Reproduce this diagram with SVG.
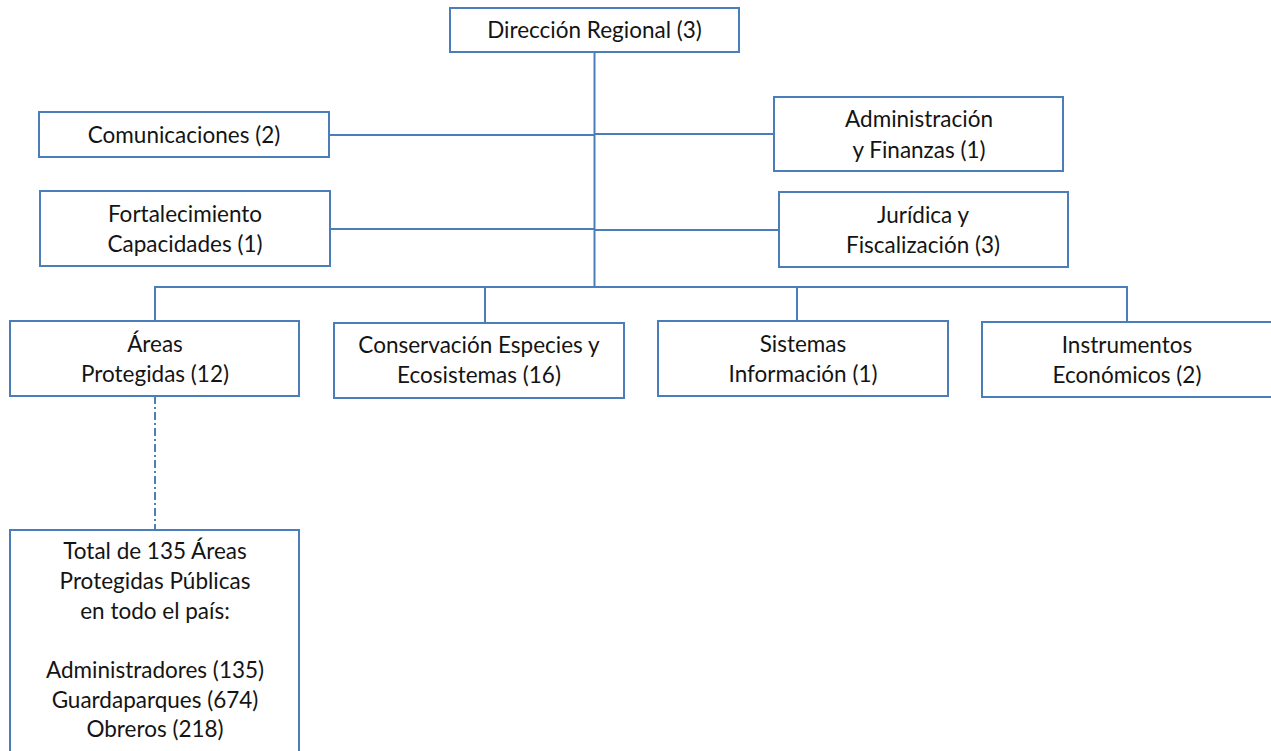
<svg xmlns="http://www.w3.org/2000/svg" width="1271" height="751" viewBox="0 0 1271 751">
<style>
.box{fill:#ffffff;stroke:#4a7ebb;stroke-width:2}
.ln{fill:none;stroke:#4a7ebb;stroke-width:2}
.dd{fill:none;stroke:#4a7ebb;stroke-width:2;stroke-dasharray:8 3 2 3}
text{font-family:Lato,"Open Sans",sans-serif;font-size:22.5px;fill:#141414;text-anchor:middle}
</style>
<rect width="1271" height="751" fill="#ffffff"/>
<g id="connectors">
<path class="ln" d="M594.5 52V287"/>
<path class="ln" d="M329 135H594.5M594.5 134H774"/>
<path class="ln" d="M330 229H594.5M594.5 230H779"/>
<path class="ln" d="M155 321V287H1127V322M485 287V323M797 287V321"/>
<path class="dd" d="M155 396V530"/>
</g>
<g id="direccion"><rect class="box" x="450" y="8" width="289" height="44"/><text x="594.5" y="38">Dirección Regional (3)</text></g>
<g id="comunicaciones"><rect class="box" x="39" y="112" width="290" height="45"/><text x="184" y="143">Comunicaciones (2)</text></g>
<g id="administracion"><rect class="box" x="774" y="97" width="289" height="74"/><text x="919" y="127">Administración</text><text x="919" y="158">y Finanzas (1)</text></g>
<g id="fortalecimiento"><rect class="box" x="40" y="191" width="290" height="75"/><text x="185" y="222">Fortalecimiento</text><text x="185" y="252">Capacidades (1)</text></g>
<g id="juridica"><rect class="box" x="779" y="192" width="289" height="75"/><text x="923" y="223">Jurídica y</text><text x="923" y="253">Fiscalización (3)</text></g>
<g id="areas"><rect class="box" x="10" y="321" width="289" height="75"/><text x="155" y="352">Áreas</text><text x="155" y="382">Protegidas (12)</text></g>
<g id="conservacion"><rect class="box" x="334" y="323" width="290" height="75"/><text x="479" y="353">Conservación Especies y</text><text x="479" y="383">Ecosistemas (16)</text></g>
<g id="sistemas"><rect class="box" x="658" y="321" width="290" height="75"/><text x="803" y="352">Sistemas</text><text x="803" y="382">Información (1)</text></g>
<g id="instrumentos"><rect class="box" x="982" y="322" width="290" height="75"/><text x="1127" y="353">Instrumentos</text><text x="1127" y="383">Económicos (2)</text></g>
<g id="total"><rect class="box" x="10" y="530" width="289" height="230"/>
<text x="155" y="559">Total de 135 Áreas</text>
<text x="155" y="589">Protegidas Públicas</text>
<text x="155" y="619">en todo el país:</text>
<text x="155" y="678">Administradores (135)</text>
<text x="155" y="708">Guardaparques (674)</text>
<text x="155" y="737">Obreros (218)</text>
</g>
</svg>
